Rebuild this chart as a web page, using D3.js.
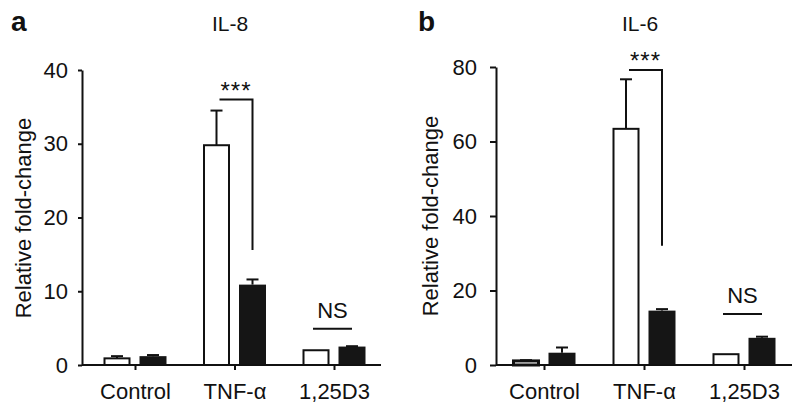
<!DOCTYPE html>
<html>
<head>
<meta charset="utf-8">
<script src="https://cdn.jsdelivr.net/npm/d3@7"></script>
<style>
  body { margin: 0; background: #fff; }
  svg text { font-family: "Liberation Sans", Arial, Helvetica, sans-serif; fill: #111; }
</style>
</head>
<body>
<div class="chart"></div>
<script>
// categories and series
const groups = ["Control", "TNF-\u03b1", "1,25D3"];
const series = ["open", "filled"];

// IL-8 (panel a)
const il8Open = [0.9, 29.8, 2.0];
const il8OpenErr = [0.3, 4.7, 0];
const il8Filled = [1.2, 10.9, 2.5];
const il8FilledErr = [0.15, 0.7, 0.05];
const il8Ticks = [0, 10, 20, 30, 40];

// IL-6 (panel b)
const il6Open = [1.1, 63.4, 2.9];
const il6OpenErr = [0.2, 13.3, 0];
const il6Filled = [3.3, 14.6, 7.3];
const il6FilledErr = [1.4, 0.4, 0.3];
const il6Ticks = [0, 20, 40, 60, 80];

// significance annotations (data units)
const il8Sig = { star: "***", top: 36, bottom: 15.6, ns: 4.9 };
const il6Sig = { star: "***", top: 79.2, bottom: 32, ns: 13.7 };

const width = 800;
const height = 412;
const svg = d3.select('.chart')
  .append('svg')
  .attr('width', width)
  .attr('height', height);

function drawPanel(opt) {
  const g = svg.append('g');

  const y = d3.scaleLinear().domain([0, opt.ticks[opt.ticks.length - 1]]).range([365, opt.yTop]);
  const x = d3.scalePoint().domain(groups).range(opt.centers);
  const x1 = d3.scaleBand().domain(series).range([-31.5, 31.5]).paddingInner(0.25);

  const rows = groups.map((grp, i) => ({
    grp: grp,
    bars: [
      { s: "open", v: opt.open[i], e: opt.openErr[i] },
      { s: "filled", v: opt.filled[i], e: opt.filledErr[i] }
    ]
  }));

  // error bars (upper only)
  rows.forEach(r => {
    r.bars.forEach(b => {
      if (b.e <= 0) return;
      const cx = x(r.grp) + x1(b.s) + x1.bandwidth() / 2;
      g.append('line')
        .attr('x1', cx).attr('x2', cx)
        .attr('y1', y(b.v)).attr('y2', y(b.v + b.e))
        .attr('stroke', '#111').attr('stroke-width', 2);
      g.append('line')
        .attr('x1', cx - 6).attr('x2', cx + 6)
        .attr('y1', y(b.v + b.e)).attr('y2', y(b.v + b.e))
        .attr('stroke', '#111').attr('stroke-width', 2);
    });
  });

  // bars
  rows.forEach(r => {
    g.selectAll(null)
      .data(r.bars)
      .enter()
      .append('rect')
      .attr('x', d => x(r.grp) + x1(d.s) + (d.s === "open" ? 1 : 0))
      .attr('width', d => d.s === "open" ? x1.bandwidth() - 2 : x1.bandwidth())
      .attr('y', d => y(d.v))
      .attr('height', d => y(0) - y(d.v))
      .attr('fill', d => d.s === "open" ? "#fff" : "#151515")
      .attr('stroke', d => d.s === "open" ? "#111" : "none")
      .attr('stroke-width', d => (y(0) - y(d.v)) < 5 ? 3 : 2);
  });

  // y axis
  const yAxis = g.append('g')
    .attr('transform', `translate(${opt.axisX},0)`)
    .call(d3.axisLeft(y).tickValues(opt.ticks).tickSize(opt.tickLen).tickSizeOuter(0).tickPadding(opt.tickPad));
  yAxis.selectAll('path, line').attr('stroke', '#111').attr('stroke-width', 2);
  yAxis.selectAll('text').attr('font-size', 22).attr('font-family', '"Liberation Sans", Arial, sans-serif').attr('fill', '#111');

  // x axis
  const xAxis = g.append('g')
    .attr('transform', `translate(0,${y(0)})`)
    .call(d3.axisBottom(x).tickSize(5).tickSizeOuter(0).tickPadding(13));
  xAxis.select('.domain').remove();
  xAxis.append('line')
    .attr('x1', opt.axisX).attr('x2', opt.axisEnd)
    .attr('y1', 0).attr('y2', 0);
  xAxis.selectAll('line').attr('stroke', '#111').attr('stroke-width', 2);
  xAxis.selectAll('text').attr('font-size', 22).attr('font-family', '"Liberation Sans", Arial, sans-serif').attr('fill', '#111');

  // y label
  g.append('text')
    .attr('transform', `translate(${opt.labelX},${opt.labelY}) rotate(-90)`)
    .attr('text-anchor', 'middle')
    .attr('font-size', 22)
    .text('Relative fold-change');

  // title and panel letter
  g.append('text')
    .attr('x', opt.titleX).attr('y', 31)
    .attr('text-anchor', 'middle')
    .attr('font-size', 21)
    .text(opt.title);
  g.append('text')
    .attr('x', opt.letterX).attr('y', 31)
    .attr('font-size', 28)
    .attr('font-weight', 'bold')
    .text(opt.letter);

  // significance bracket TNF
  const tnf = groups[1];
  const bx0 = x(tnf) + x1("open") + x1.bandwidth() / 2 + 3;
  const bx1 = x(tnf) + x1("filled") + x1.bandwidth() / 2;
  g.append('path')
    .attr('d', `M${bx0},${y(opt.sig.top)}H${bx1}V${y(opt.sig.bottom)}`)
    .attr('fill', 'none')
    .attr('stroke', '#111')
    .attr('stroke-width', 2);
  g.append('text')
    .attr('x', (bx0 + bx1) / 2).attr('y', y(opt.sig.top) - 1)
    .attr('text-anchor', 'middle')
    .attr('font-size', 24)
    .attr('letter-spacing', 1)
    .text(opt.sig.star);

  // NS line
  const d3g = groups[2];
  const nx0 = x(d3g) - 21;
  const nx1 = x(d3g) + 18;
  g.append('line')
    .attr('x1', nx0).attr('x2', nx1)
    .attr('y1', y(opt.sig.ns)).attr('y2', y(opt.sig.ns))
    .attr('stroke', '#111').attr('stroke-width', 2);
  g.append('text')
    .attr('x', (nx0 + nx1) / 2).attr('y', y(opt.sig.ns) - 11)
    .attr('text-anchor', 'middle')
    .attr('font-size', 22)
    .text('NS');
}

drawPanel({
  letter: "a", letterX: 11, title: "IL-8", titleX: 230,
  open: il8Open, openErr: il8OpenErr, filled: il8Filled, filledErr: il8FilledErr,
  ticks: il8Ticks, yTop: 70, centers: [135, 334],
  axisX: 82, axisEnd: 381, tickLen: 4, tickPad: 10,
  labelX: 31, labelY: 218, sig: il8Sig
});

drawPanel({
  letter: "b", letterX: 418, title: "IL-6", titleX: 640,
  open: il6Open, openErr: il6OpenErr, filled: il6Filled, filledErr: il6FilledErr,
  ticks: il6Ticks, yTop: 67, centers: [544, 744],
  axisX: 496, axisEnd: 792, tickLen: 6, tickPad: 13,
  labelX: 438, labelY: 216, sig: il6Sig
});
</script>
</body>
</html>
